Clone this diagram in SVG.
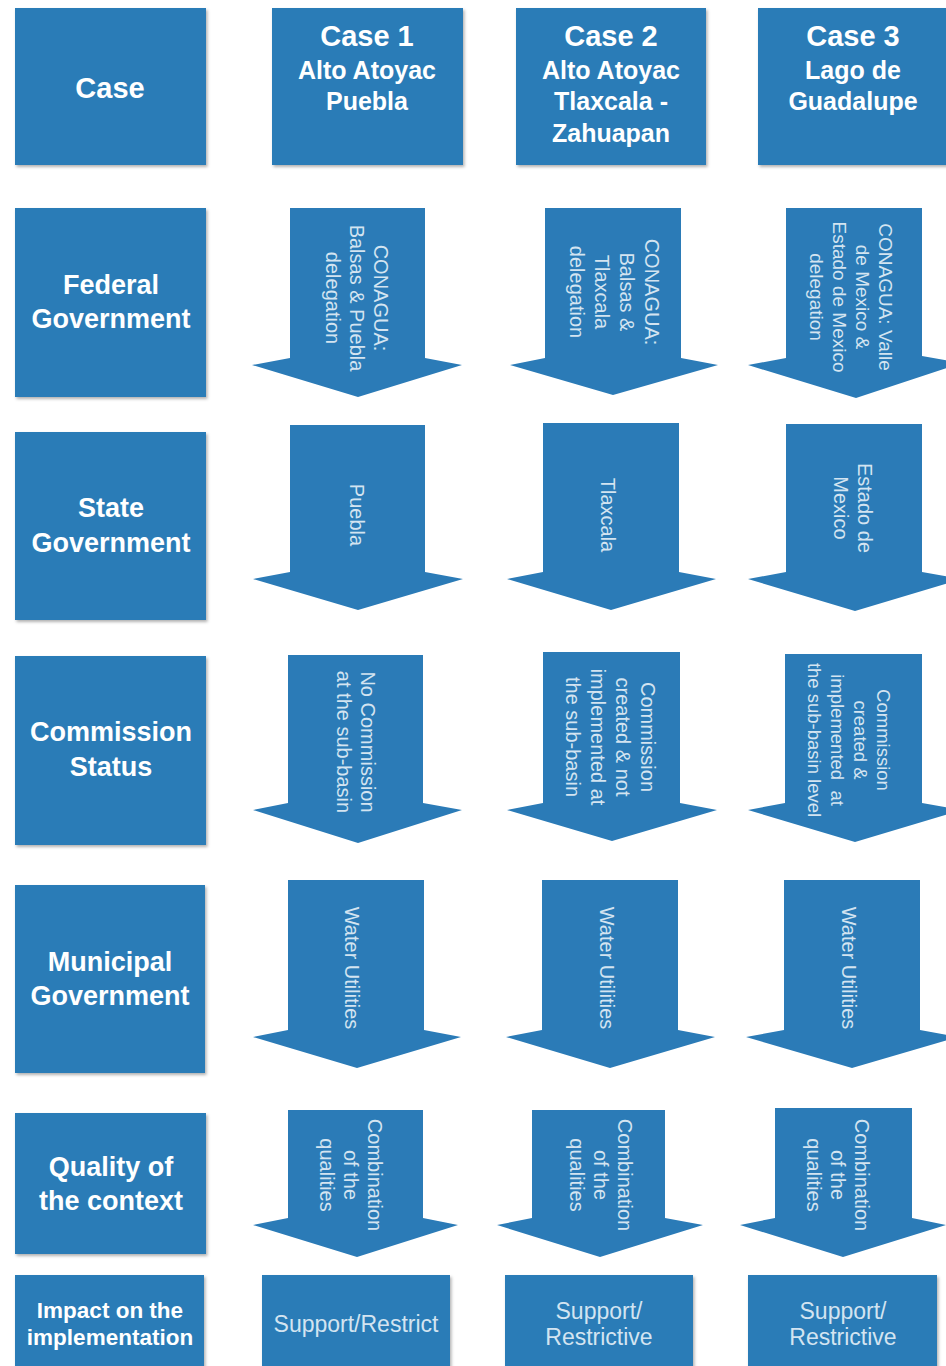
<svg xmlns="http://www.w3.org/2000/svg" width="946" height="1366" viewBox="0 0 946 1366">
<style>
.box{fill:#2b7bb7;filter:url(#sh)}
.arr{fill:#2b7bb7}
.hd{font-family:"Liberation Sans",Arial,sans-serif;font-weight:bold;fill:#ffffff;text-anchor:middle}
.at{font-family:"Liberation Sans",Arial,sans-serif;fill:#d3e4f1;text-anchor:middle;font-size:20px}
.bt{font-family:"Liberation Sans",Arial,sans-serif;fill:#d3e4f1;text-anchor:middle;font-size:23px}
</style>
<defs>
<filter id="sh" x="-10%" y="-10%" width="120%" height="120%">
<feDropShadow dx="1.5" dy="2" stdDeviation="1.5" flood-color="#000" flood-opacity="0.3"/>
</filter>
</defs>
<rect width="946" height="1366" fill="#ffffff"/>

<!-- Row labels -->
<g id="lbl-case"><rect class="box" x="15" y="8" width="191" height="157"/><text class="hd" font-size="29" x="110" y="98">Case</text></g>
<g id="lbl-federal"><rect class="box" x="15" y="208" width="191" height="189"/><text class="hd" font-size="27"><tspan x="111" y="294">Federal</tspan><tspan x="111" y="328">Government</tspan></text></g>
<g id="lbl-state"><rect class="box" x="15" y="432" width="191" height="188"/><text class="hd" font-size="27"><tspan x="111" y="517">State</tspan><tspan x="111" y="552">Government</tspan></text></g>
<g id="lbl-commission"><rect class="box" x="15" y="656" width="191" height="189"/><text class="hd" font-size="27"><tspan x="111" y="741">Commission</tspan><tspan x="111" y="776">Status</tspan></text></g>
<g id="lbl-municipal"><rect class="box" x="15" y="885" width="190" height="188"/><text class="hd" font-size="27"><tspan x="110" y="971">Municipal</tspan><tspan x="110" y="1005">Government</tspan></text></g>
<g id="lbl-quality"><rect class="box" x="15" y="1113" width="191" height="141"/><text class="hd" font-size="27"><tspan x="111" y="1176">Quality of</tspan><tspan x="111" y="1210">the context</tspan></text></g>
<g id="lbl-impact"><rect class="box" x="15" y="1275" width="189" height="95"/><text class="hd" font-size="22.5"><tspan x="110" y="1318">Impact on the</tspan><tspan x="110" y="1345">implementation</tspan></text></g>

<!-- Case headers -->
<g id="case1"><rect class="box" x="272" y="8" width="191" height="157"/><text class="hd"><tspan x="367" y="46" font-size="29">Case 1</tspan><tspan x="367" y="79" font-size="25">Alto Atoyac</tspan><tspan x="367" y="110" font-size="25">Puebla</tspan></text></g>
<g id="case2"><rect class="box" x="516" y="8" width="190" height="157"/><text class="hd"><tspan x="611" y="46" font-size="29">Case 2</tspan><tspan x="611" y="79" font-size="25">Alto Atoyac</tspan><tspan x="611" y="110" font-size="25">Tlaxcala -</tspan><tspan x="611" y="142" font-size="25">Zahuapan</tspan></text></g>
<g id="case3"><rect class="box" x="758" y="8" width="192" height="157"/><text class="hd"><tspan x="853" y="46" font-size="29">Case 3</tspan><tspan x="853" y="79" font-size="25">Lago de</tspan><tspan x="853" y="110" font-size="25">Guadalupe</tspan></text></g>

<!-- Arrows (connectors) -->
<g id="connectors">
<polygon class="arr" points="290,208 425,208 425,358 462,365 358,397 252,365 290,358"/>
<polygon class="arr" points="545,208 681,208 681,358 718,365 613,395 510,365 545,358"/>
<polygon class="arr" points="786,208 922,208 922,356 962,363 856,398 748,365 786,358"/>

<polygon class="arr" points="290,425 425,425 425,572 463,579 358,610 253,579 290,572"/>
<polygon class="arr" points="543,423 679,423 679,572 716,579 611,610 507,579 543,572"/>
<polygon class="arr" points="786,424 922,424 922,572 962,579 855,611 748,579 786,572"/>

<polygon class="arr" points="288,655 423,655 423,803 462,810 358,843 253,810 288,803"/>
<polygon class="arr" points="543,652 680,652 680,803 717,810 612,841 507,810 543,803"/>
<polygon class="arr" points="785,654 922,654 922,803 962,810 855,842 748,810 785,803"/>

<polygon class="arr" points="288,880 424,880 424,1030 461,1037 357,1068 253,1037 288,1030"/>
<polygon class="arr" points="542,880 678,880 678,1030 715,1037 610,1068 506,1037 542,1030"/>
<polygon class="arr" points="784,880 920,880 920,1030 958,1037 852,1068 746,1037 784,1030"/>

<polygon class="arr" points="288,1110 423,1110 423,1218 458,1225 357,1257 253,1225 288,1218"/>
<polygon class="arr" points="532,1110 665,1110 665,1218 703,1225 600,1257 497,1225 532,1218"/>
<polygon class="arr" points="775,1108 912,1108 912,1218 946,1225 843,1257 740,1225 775,1218"/>
</g>

<!-- Arrow texts -->
<g id="t-r1c1"><text class="at" transform="translate(357,298) rotate(90)"><tspan x="0" y="-17">CONAGUA:</tspan><tspan x="0" y="7">Balsas &amp; Puebla</tspan><tspan x="0" y="31">delegation</tspan></text></g>
<g id="t-r1c2"><text class="at" transform="translate(614,292) rotate(90)"><tspan x="0" y="-30.5">CONAGUA:</tspan><tspan x="0" y="-5.5">Balsas &amp;</tspan><tspan x="0" y="19.5">Tlaxcala</tspan><tspan x="0" y="44.5">delegation</tspan></text></g>
<g id="t-r1c3"><text class="at" font-size="19" style="font-size:19px" transform="translate(851,297) rotate(90)"><tspan x="0" y="-27.5">CONAGUA: Valle</tspan><tspan x="0" y="-4.5">de Mexico &amp;</tspan><tspan x="0" y="18.5">Estado de Mexico</tspan><tspan x="0" y="41.5">delegation</tspan></text></g>

<g id="t-r2c1"><text class="at" transform="translate(357,515) rotate(90)"><tspan x="0" y="7">Puebla</tspan></text></g>
<g id="t-r2c2"><text class="at" transform="translate(608,515) rotate(90)"><tspan x="0" y="7">Tlaxcala</tspan></text></g>
<g id="t-r2c3"><text class="at" transform="translate(853,508) rotate(90)"><tspan x="0" y="-5">Estado de</tspan><tspan x="0" y="19">Mexico</tspan></text></g>

<g id="t-r3c1"><text class="at" transform="translate(356,742) rotate(90)"><tspan x="0" y="-5">No Commission</tspan><tspan x="0" y="19">at the sub-basin</tspan></text></g>
<g id="t-r3c2"><text class="at" transform="translate(610,737) rotate(90)"><tspan x="0" y="-30.5">Commission</tspan><tspan x="0" y="-5.5">created &amp; not</tspan><tspan x="0" y="19.5">implemented at</tspan><tspan x="0" y="44.5">the sub-basin</tspan></text></g>
<g id="t-r3c3"><text class="at" style="font-size:18.5px" transform="translate(849,740) rotate(90)"><tspan x="0" y="-27.5">Commission</tspan><tspan x="0" y="-4.5">created &amp;</tspan><tspan x="0" y="18.5" xml:space="preserve">implemented  at</tspan><tspan x="0" y="41.5">the sub-basin level</tspan></text></g>

<g id="t-r4c1"><text class="at" transform="translate(352,968) rotate(90)"><tspan x="0" y="7">Water Utilities</tspan></text></g>
<g id="t-r4c2"><text class="at" transform="translate(607,968) rotate(90)"><tspan x="0" y="7">Water Utilities</tspan></text></g>
<g id="t-r4c3"><text class="at" transform="translate(849,968) rotate(90)"><tspan x="0" y="7">Water Utilities</tspan></text></g>

<g id="t-r5c1"><text class="at" transform="translate(351,1175) rotate(90)"><tspan x="0" y="-17">Combination</tspan><tspan x="0" y="7">of the</tspan><tspan x="0" y="31">qualities</tspan></text></g>
<g id="t-r5c2"><text class="at" transform="translate(601,1175) rotate(90)"><tspan x="0" y="-17">Combination</tspan><tspan x="0" y="7">of the</tspan><tspan x="0" y="31">qualities</tspan></text></g>
<g id="t-r5c3"><text class="at" transform="translate(838,1175) rotate(90)"><tspan x="0" y="-17">Combination</tspan><tspan x="0" y="7">of the</tspan><tspan x="0" y="31">qualities</tspan></text></g>

<!-- Impact boxes -->
<g id="impact1"><rect class="box" x="262" y="1275" width="188" height="95"/><text class="bt" x="356" y="1332">Support/Restrict</text></g>
<g id="impact2"><rect class="box" x="505" y="1275" width="188" height="95"/><text class="bt"><tspan x="599" y="1319">Support/</tspan><tspan x="599" y="1345">Restrictive</tspan></text></g>
<g id="impact3"><rect class="box" x="748" y="1275" width="189" height="95"/><text class="bt"><tspan x="843" y="1319">Support/</tspan><tspan x="843" y="1345">Restrictive</tspan></text></g>
</svg>
